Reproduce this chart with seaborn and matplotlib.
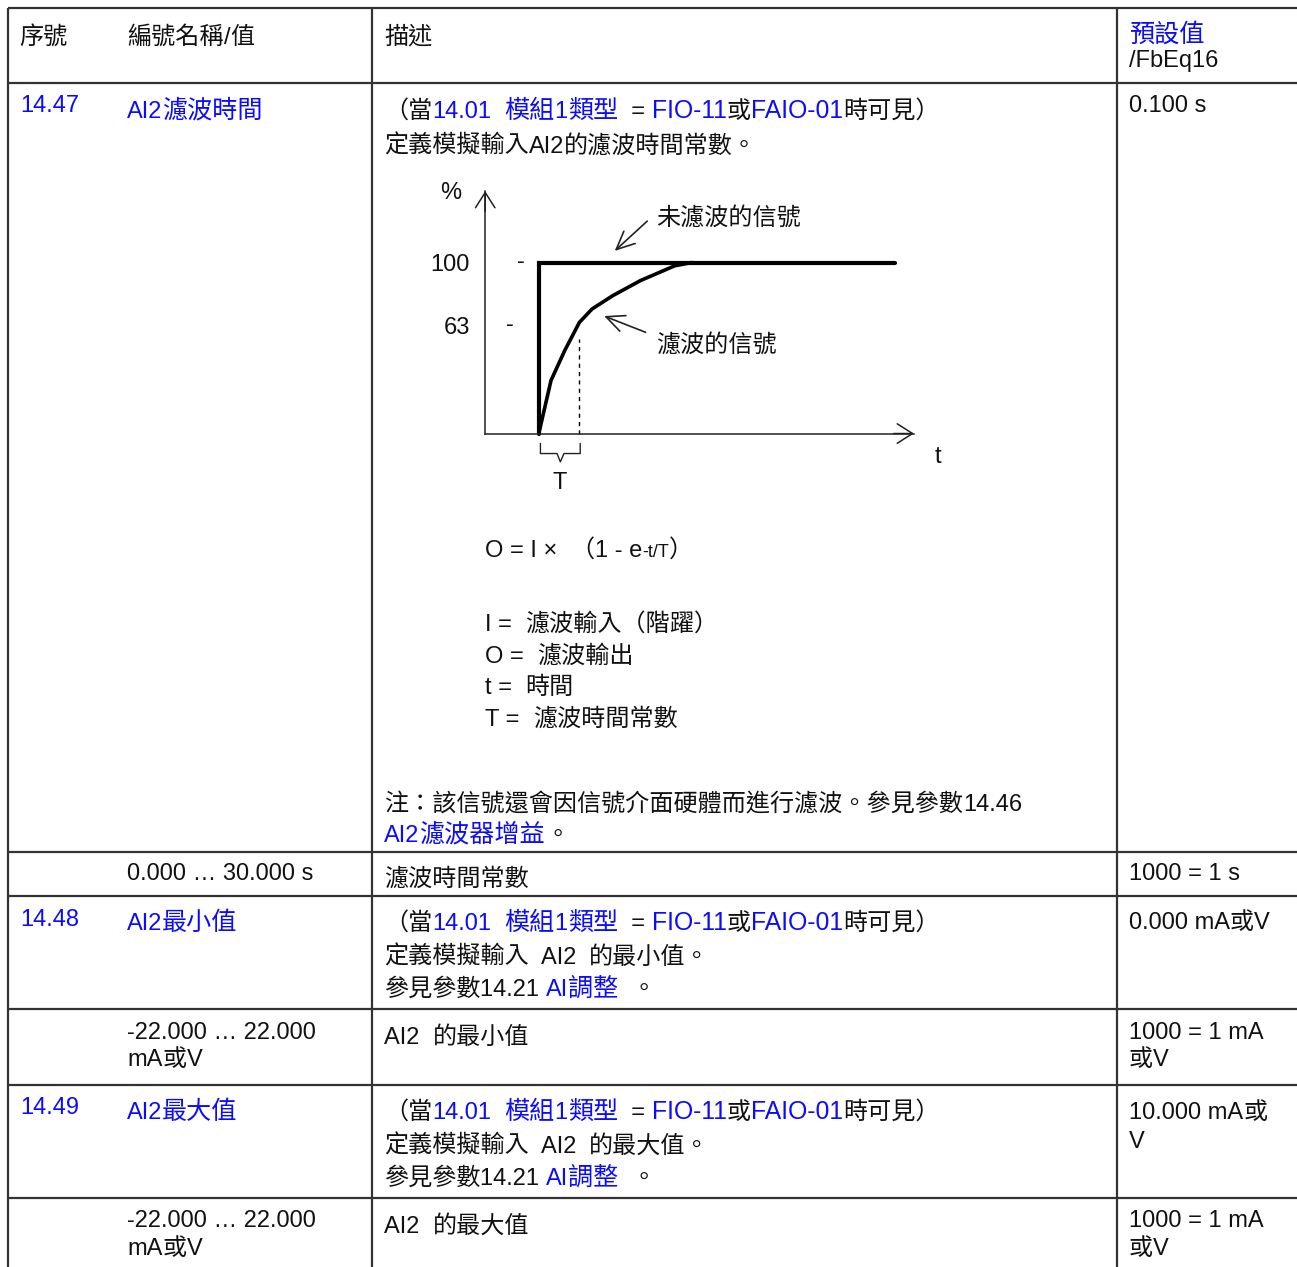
import matplotlib
matplotlib.use('Agg')
import matplotlib.pyplot as plt
import seaborn as sns
from matplotlib.font_manager import FontProperties

sns.set_style('white')
FAM = ['Liberation Sans', 'Noto Sans CJK TC']
plt.rcParams['font.family'] = FAM

# step response chart data (t in units of T, value in %)
unfiltered_t = [0.0, 0.0, 8.77]
unfiltered_pct = [0, 100, 100]
filtered_t = [0.0, 0.30, 0.64, 1.0, 1.31, 1.82, 2.50, 3.35, 3.77]
filtered_pct = [0, 31, 48.6, 65, 72.8, 80.6, 89.4, 98.1, 100]
y_ticks = [63, 100]
y_tick_labels = ['63', '100']

BLUE = '#0b0bff'
INK = '#111111'
LINE = '#333333'
SIZE = 17
CJK_SIZE = {INK: 17.35, BLUE: 18.1}

fig = plt.figure(figsize=(12.97, 12.67), dpi=100)
ax = fig.add_axes([0, 0, 1, 1])
ax.set_xlim(0, 1297)
ax.set_ylim(1267, 0)
ax.axis('off')
renderer = fig.canvas.get_renderer()


def text_w(s, size):
    fp = FontProperties(family=FAM, size=size)
    w1, _, _ = renderer.get_text_width_height_descent('|' + s + '|', fp, False)
    w0, _, _ = renderer.get_text_width_height_descent('||', fp, False)
    return w1 - w0


def split_script(s):
    # cut a string into latin / cjk pieces
    parts = []
    for ch in s:
        cjk = ord(ch) >= 0x2E80
        if parts and parts[-1][1] == cjk:
            parts[-1][0] += ch
        else:
            parts.append([ch, cjk])
    return parts


def put(x, y, runs):
    # draw a line of mixed-colour text pieces
    if isinstance(runs, str):
        runs = [(runs, INK)]
    for r in runs:
        s, c = r[0], r[1]
        base = r[2] if len(r) > 2 else SIZE
        for piece, cjk in split_script(s):
            size = CJK_SIZE[c] if cjk else base
            ax.text(x, y, piece, color=c, fontsize=size, family=FAM,
                    ha='left', va='baseline')
            x += text_w(piece, size)


def cond(y):
    put(384, y, [('（當', INK), ('14.01', BLUE), ('  ', INK), ('模組1類型', BLUE),
                 ('  = ', INK), ('FIO-11', BLUE, 17.8), ('或', INK, 17.8),
                 ('FAIO-01', BLUE, 17.8), ('時可見）', INK)])


# table grid
for y in [8, 83, 852, 896, 1009, 1085, 1198]:
    ax.plot([8, 1297], [y, y], color=LINE, lw=1.6, solid_capstyle='butt')
for x in [8, 372, 1117]:
    ax.plot([x, x], [8, 1267], color=LINE, lw=1.6, solid_capstyle='butt')

# header
put(19, 44, '序號')
put(127, 44, '編號名稱/值')
put(384, 44, '描述')
put(1129, 42, [('預設值', BLUE)])
put(1129, 67, '/FbEq16')

# 14.47
put(20, 112, [('14.47', BLUE)])
put(127, 118, [('AI2濾波時間', BLUE)])
cond(118)
put(384, 153, '定義模擬輸入AI2的濾波時間常數。')
put(1129, 112, '0.100 s')
put(485, 557, [('O = I ×  （1 - e', INK), ('-t/T', INK, 13), ('）', INK)])
put(485, 631, 'I =  濾波輸入（階躍）')
put(485, 663, 'O =  濾波輸出')
put(485, 694, 't =  時間')
put(485, 726, 'T =  濾波時間常數')
put(384, 811, '注：該信號還會因信號介面硬體而進行濾波。參見參數14.46')
put(384, 842, [('AI2濾波器增益', BLUE), ('。', INK)])

put(127, 880, '0.000 … 30.000 s')
put(384, 886, '濾波時間常數')
put(1129, 880, '1000 = 1 s')

# 14.48
put(20, 926, [('14.48', BLUE)])
put(127, 930, [('AI2最小值', BLUE)])
cond(930)
put(384, 964, '定義模擬輸入  AI2  的最小值。')
put(384, 996, [('參見參數14.21 ', INK), ('AI調整', BLUE), ('  。', INK)])
put(1129, 929, '0.000 mA或V')

put(127, 1039, '-22.000 … 22.000')
put(127, 1066, 'mA或V')
put(384, 1044, 'AI2  的最小值')
put(1129, 1039, '1000 = 1 mA')
put(1129, 1066, '或V')

# 14.49
put(20, 1114, [('14.49', BLUE)])
put(127, 1119, [('AI2最大值', BLUE)])
cond(1119)
put(384, 1153, '定義模擬輸入  AI2  的最大值。')
put(384, 1185, [('參見參數14.21 ', INK), ('AI調整', BLUE), ('  。', INK)])
put(1129, 1119, '10.000 mA或')
put(1129, 1148, 'V')

put(127, 1227, '-22.000 … 22.000')
put(127, 1255, 'mA或V')
put(384, 1233, 'AI2  的最大值')
put(1129, 1227, '1000 = 1 mA')
put(1129, 1255, '或V')

# step response chart
ax2 = fig.add_axes([420 / 1297, (1267 - 500) / 1267, 540 / 1297, 330 / 1267])
ax2.set_facecolor('none')
ax2.set_xlim(-2.926, 10.374)
ax2.set_ylim(-38.87, 154.1)
y0, x_end, y_top = -1.32, 9.24, 141.8
for side in ['top', 'right']:
    ax2.spines[side].set_visible(False)
ax2.spines['left'].set_position(('data', y0))
ax2.spines['left'].set_bounds(0, y_top)
ax2.spines['bottom'].set_position(('data', 0))
ax2.spines['bottom'].set_bounds(y0, x_end)
for side in ['left', 'bottom']:
    ax2.spines[side].set_color('#222222')
    ax2.spines[side].set_linewidth(1.1)
ax2.set_xticks([])
ax2.set_yticks(y_ticks)
ax2.set_yticklabels(y_tick_labels)
ax2.tick_params(axis='y', length=0, pad=11, labelsize=SIZE, labelcolor=INK)

sns.lineplot(x=unfiltered_t, y=unfiltered_pct, sort=False, estimator=None,
             color='black', lw=3.0, ax=ax2, solid_joinstyle='miter')
sns.lineplot(x=filtered_t, y=filtered_pct, sort=False, estimator=None,
             color='black', lw=2.6, ax=ax2)
ax2.plot([1.0, 1.0], [0, 55], color='black', lw=1.0, ls=(0, (3, 3)))

head = dict(arrowstyle='->,head_length=1.1,head_width=0.7', lw=1.1,
            color='#222222', shrinkA=0, shrinkB=0)
ax2.annotate('', xy=(y0, y_top), xytext=(y0, y_top - 12), arrowprops=head)
ax2.annotate('', xy=(x_end, 0), xytext=(x_end - 0.5, 0), arrowprops=head)

ax2.text(-2.16, 140.7, '%', fontsize=SIZE, ha='center', va='center', color=INK)
ax2.text(-0.44, 100.5, '-', fontsize=SIZE, ha='center', va='center', color=INK)
ax2.text(-0.71, 63.5, '-', fontsize=SIZE, ha='center', va='center', color=INK)
ax2.text(9.84, -13.8, 't', fontsize=SIZE, ha='center', va='center', color=INK)
ax2.text(0.52, -29, 'T', fontsize=SIZE, ha='center', va='center', color=INK)
ax2.plot([0.04, 0.04, 0.45, 0.53, 0.62, 1.02, 1.02],
         [-5.8, -11.7, -11.7, -16.6, -11.7, -11.7, -5.8], color='#222222', lw=1.0)

ax2.text(2.89, 126, '未濾波的信號', fontsize=CJK_SIZE[INK], ha='left', va='center', color=INK)
ax2.text(2.89, 51.5, '濾波的信號', fontsize=CJK_SIZE[INK], ha='left', va='center', color=INK)
lab = dict(arrowstyle='->,head_length=1.3,head_width=0.6', lw=1.2,
           color='#222222', shrinkA=0, shrinkB=0)
ax2.annotate('', xy=(1.87, 106.8), xytext=(2.67, 124.2), arrowprops=lab)
ax2.annotate('', xy=(1.61, 68.7), xytext=(2.63, 59.2), arrowprops=lab)

fig.savefig('out.png', dpi=100)
